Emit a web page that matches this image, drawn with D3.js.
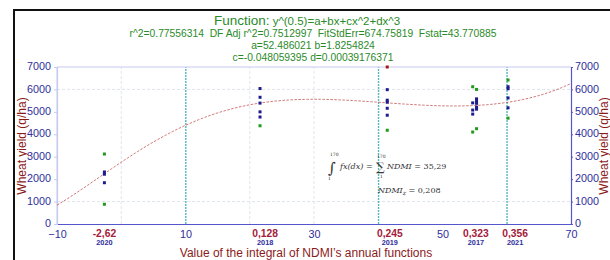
<!DOCTYPE html>
<html>
<head>
<meta charset="utf-8">
<script src="https://cdn.jsdelivr.net/npm/d3@7.9.0/dist/d3.min.js"></script>
<style>
  body { margin: 0; background: #fff; }
  svg { display: block; font-family: Arial, "Liberation Sans", sans-serif; }
</style>
</head>
<body>
<svg id="chart" width="610" height="260"></svg>
<script>
// fit coefficients, y^(0.5) = a + bx + cx^2 + dx^3
const coefA = 52.486021;
const coefB = 1.8254824;
const coefC = -0.048059395;
const coefD = 0.00039176371;

const xTicks = [-10, 10, 30, 50, 70];
const yTicks = [0, 1000, 2000, 3000, 4000, 5000, 6000, 7000];

const years = ['2020', '2018', '2019', '2017', '2021'];
const ndmiLabels = ['-2,62', '0,128', '0,245', '0,323', '0,356'];
const labelX = [-2.62, 22.4, 41.8, 55.2, 61.3];

const blueX = [-2.62, -2.62, -2.62,
  21.6, 21.6, 21.6, 21.6, 21.6,
  41.4, 41.4, 41.4, 41.4, 41.4,
  54.7, 54.7, 54.7, 55.3, 55.3, 55.3, 55.3, 55.3,
  60.2, 60.2, 60.2, 60.2];
const blueY = [2320, 2220, 1840,
  6040, 5650, 5390, 5000, 4770,
  5990, 5520, 5430, 5160, 4850,
  5400, 5080, 4900, 5580, 5480, 5380, 5210, 5120,
  6120, 6030, 5620, 5180];

const greenX = [-2.62, -2.62, 21.6, 41.4, 54.7, 54.7, 55.3, 55.3, 60.2, 60.2];
const greenY = [3120, 880, 4380, 4180, 6120, 4100, 6000, 4250, 6420, 4720];

const redX = [41.4];
const redY = [7000];

const gridX = [0, 20, 30];
const gridY = [1000, 6000];
const markX = [10, 40, 60];

const svg = d3.select('#chart');

const x = d3.scaleLinear().domain([-10, 70]).range([57, 571]);
const y = d3.scaleLinear().domain([0, 7000]).range([224, 67]);

// outer frame (top + left only)
svg.append('line').attr('x1', 13).attr('x2', 610).attr('y1', 10).attr('y2', 10)
  .attr('stroke', '#111').attr('stroke-width', 2);
svg.append('line').attr('x1', 14).attr('x2', 14).attr('y1', 10).attr('y2', 260)
  .attr('stroke', '#111').attr('stroke-width', 2);

// title block
const title = svg.append('text').attr('x', 307).attr('y', 25)
  .attr('text-anchor', 'middle').attr('fill', '#2a8a2a');
title.append('tspan').attr('font-size', 13.5).text('Function:');
title.append('tspan').attr('font-size', 11.5).text(' y^(0.5)=a+bx+cx^2+dx^3');

const stats = [
  'r^2=0.77556314  DF Adj r^2=0.7512997  FitStdErr=674.75819  Fstat=43.770885',
  'a=52.486021 b=1.8254824',
  'c=-0.048059395 d=0.00039176371'
];
stats.forEach((s, i) => {
  svg.append('text').attr('x', 313).attr('y', 37 + i * 12)
    .attr('text-anchor', 'middle').attr('font-size', 10.3).attr('fill', '#2a8a2a')
    .attr('xml:space', 'preserve').text(s);
});

// grid
svg.append('g').selectAll('line').data(gridY).join('line')
  .attr('x1', x(-10)).attr('x2', x(70)).attr('y1', d => y(d)).attr('y2', d => y(d))
  .attr('stroke', '#dfe4ee').attr('stroke-dasharray', '3,2');
svg.append('g').selectAll('line').data(gridX).join('line')
  .attr('x1', d => x(d)).attr('x2', d => x(d)).attr('y1', y(0)).attr('y2', y(7000))
  .attr('stroke', '#dfe4ee').attr('stroke-dasharray', '3,2');
svg.append('g').selectAll('line').data(markX).join('line')
  .attr('x1', d => x(d) + 0.3).attr('x2', d => x(d) + 0.3).attr('y1', y(0)).attr('y2', y(7000))
  .attr('stroke', '#56b8be').attr('stroke-width', 1.4).attr('stroke-dasharray', '2,1');

// frame lines of plot
svg.append('line').attr('x1', x(-10)).attr('x2', x(70)).attr('y1', y(7000)).attr('y2', y(7000))
  .attr('stroke', '#c9c9f0');
svg.append('line').attr('x1', x(-10)).attr('x2', x(-10)).attr('y1', y(0)).attr('y2', y(7000))
  .attr('stroke', '#c9c9f0');

// axes
const tickColor = '#2e2e9c';
const styleAxis = (g, lineColor) => {
  g.select('.domain').attr('stroke', lineColor).attr('stroke-width', 1.2);
  g.selectAll('.tick line').attr('stroke', lineColor);
  g.selectAll('.tick text').attr('fill', tickColor).attr('font-size', 10.8)
    .attr('font-family', 'Arial, sans-serif');
};

svg.append('g').attr('transform', `translate(0,${y(0)})`)
  .call(d3.axisBottom(x).tickValues(xTicks).tickSize(0).tickPadding(6).tickFormat(d3.format('d')))
  .call(g => styleAxis(g, '#5656cc'));

svg.append('g').attr('transform', `translate(${x(-10)},0)`)
  .call(d3.axisLeft(y).tickValues(yTicks).tickSize(3).tickPadding(3).tickFormat(d3.format('d')))
  .call(g => styleAxis(g, '#c9c9f0'))
  .call(g => g.selectAll('.tick text').attr('dy', '0.25em'));

svg.append('g').attr('transform', `translate(${x(70)},0)`)
  .call(d3.axisRight(y).tickValues(yTicks).tickSize(2).tickPadding(2).tickFormat(d3.format('d')))
  .call(g => styleAxis(g, '#5656cc'))
  .call(g => g.selectAll('.tick text').attr('dy', '0.25em'));

// NDMI labels and years under the x axis
svg.append('g').selectAll('text').data(ndmiLabels).join('text')
  .attr('x', (d, i) => x(labelX[i])).attr('y', y(0) + 13)
  .attr('text-anchor', 'middle').attr('font-size', 10.3).attr('font-weight', 'bold')
  .attr('fill', '#a3203a').text(d => d);
svg.append('g').selectAll('text').data(years).join('text')
  .attr('x', (d, i) => x(labelX[i])).attr('y', y(0) + 21)
  .attr('text-anchor', 'middle').attr('font-size', 7.3).attr('font-weight', 'bold')
  .attr('fill', '#2e2e9c').text(d => d);

// axis titles
svg.append('text').attr('x', 306).attr('y', 257).attr('text-anchor', 'middle')
  .attr('font-size', 12).attr('fill', '#8b1a1a')
  .text('Value of the integral of NDMI\u2019s annual functions');
svg.append('text').attr('transform', 'translate(26,146) rotate(-90)')
  .attr('text-anchor', 'middle').attr('font-size', 12).attr('fill', '#8b1a1a')
  .text('Wheat yield (q/ha)');
svg.append('text').attr('transform', 'translate(608,146) rotate(-90)')
  .attr('text-anchor', 'middle').attr('font-size', 12).attr('fill', '#8b1a1a')
  .text('Wheat yield (q/ha)');

// fitted curve
const fitX = d3.range(-10, 70.01, 0.5);
const fit = v => {
  const r = coefA + coefB * v + coefC * v * v + coefD * v * v * v;
  return r * r;
};
svg.append('path')
  .attr('d', d3.line().x(d => x(d)).y(d => y(fit(d)))(fitX))
  .attr('fill', 'none').attr('stroke', '#c04848').attr('stroke-width', 1)
  .attr('stroke-opacity', 0.75).attr('stroke-dasharray', '2.5,1.5');

// points
const drawPoints = (xs, ys, color) => {
  svg.append('g').selectAll('rect').data(xs).join('rect')
    .attr('x', (d, i) => x(d) - 1.5).attr('y', (d, i) => y(ys[i]) - 1.5)
    .attr('width', 3).attr('height', 3).attr('fill', color);
};
drawPoints(blueX, blueY, '#1c1c8e');
drawPoints(greenX, greenY, '#1f9a1f');
drawPoints(redX, redY, '#a01818');

// integral annotation
const math = svg.append('g').attr('font-family', '"DejaVu Serif", "Liberation Serif", serif')
  .attr('fill', '#333');
math.append('text').attr('x', 328).attr('y', 173).attr('font-size', 15).text('\u222B');
math.append('text').attr('x', 330).attr('y', 156).attr('font-size', 4.5).text('170');
math.append('text').attr('x', 328).attr('y', 180).attr('font-size', 4.5).text('1');
math.append('text').attr('x', 340).attr('y', 169).attr('font-size', 8).attr('font-style', 'italic')
  .text('fx(dx) =');
math.append('text').attr('x', 376).attr('y', 171).attr('font-size', 12).text('\u2211');
math.append('text').attr('x', 377).attr('y', 158).attr('font-size', 4.5).text('170');
math.append('text').attr('x', 380).attr('y', 178).attr('font-size', 4.5).text('1');
const ndmiSum = math.append('text').attr('x', 387).attr('y', 169).attr('font-size', 8);
ndmiSum.append('tspan').attr('font-style', 'italic').text('NDMI');
ndmiSum.append('tspan').text(' = 35,29');
const ndmiZ = math.append('text').attr('x', 378).attr('y', 193).attr('font-size', 8);
ndmiZ.append('tspan').attr('font-style', 'italic').text('NDMI');
ndmiZ.append('tspan').attr('font-style', 'italic').attr('font-size', 6).attr('dy', 2).text('z');
ndmiZ.append('tspan').attr('dy', -2).text(' = 0,208');
</script>
</body>
</html>
